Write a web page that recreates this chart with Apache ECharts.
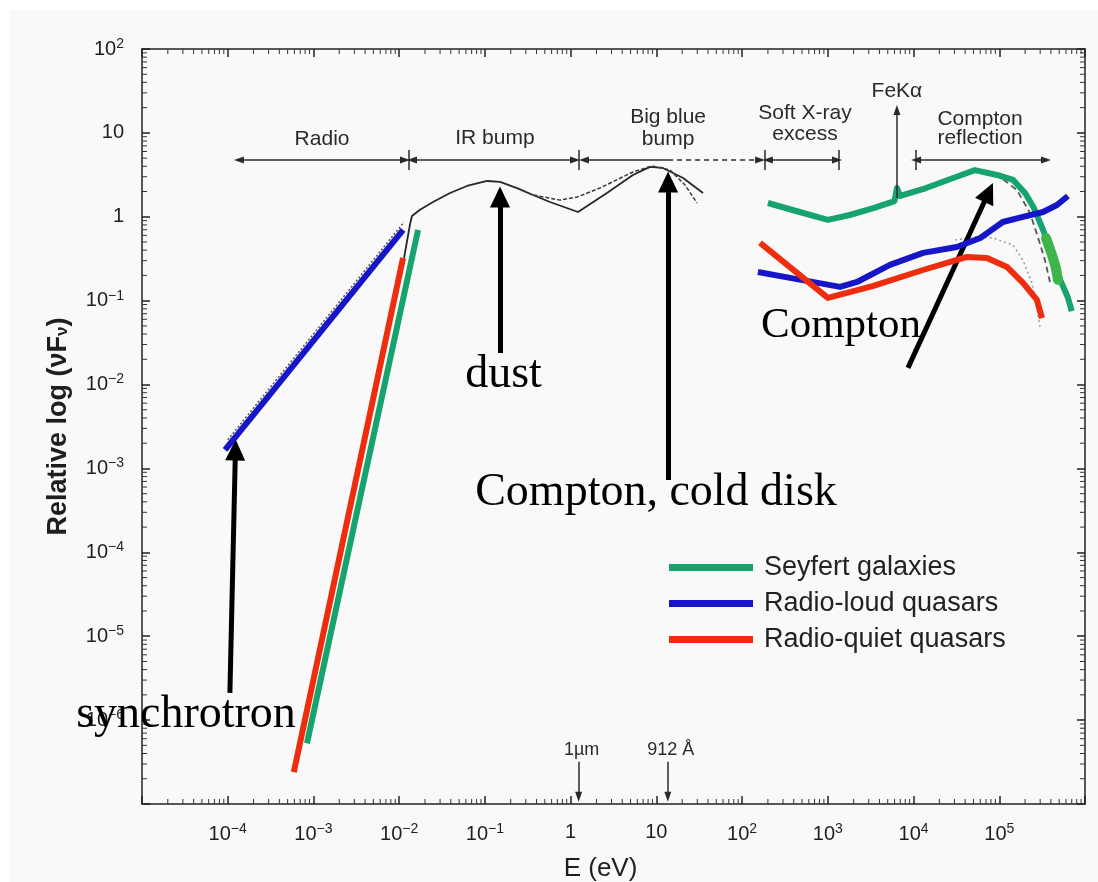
<!DOCTYPE html>
<html>
<head>
<meta charset="utf-8">
<script src="https://cdn.jsdelivr.net/npm/echarts@6/dist/echarts.min.js"></script>
<style>
  html, body { margin: 0; padding: 0; background: #ffffff; }
  #paper { position: absolute; left: 9px; top: 10px; right: 0; bottom: 0; background: #f9f9f9; }
  #chart { position: absolute; left: 0; top: 0; width: 1098px; height: 882px; }
</style>
</head>
<body>
<div id="paper"></div>
<div id="chart"></div>
<script>
// ---- Spectral energy distributions: photon energy E (eV) and relative nuFnu ----
const seyfertRadioE = [8.4e-4, 0.0166];
const seyfertRadioF = [5.3e-7, 0.70];
const seyfertXrayE = [200, 470, 1000, 1800, 3400, 6000, 6400, 7000, 14000, 29000, 52000, 94000, 145000, 200000, 250000, 315000, 370000, 450000, 510000, 630000, 700000];
const seyfertXrayF = [1.46, 1.14, 0.92, 1.05, 1.27, 1.54, 2.2, 1.77, 2.2, 2.9, 3.6, 3.15, 2.75, 1.92, 1.31, 0.75, 0.49, 0.28, 0.18, 0.11, 0.075];
const seyfertHardE = [351000, 412000, 458000, 484000];
const seyfertHardF = [0.558, 0.351, 0.245, 0.177];

const loudRadioE = [9.3e-5, 0.0111];
const loudRadioF = [1.66e-3, 0.70];
const loudXrayE = [153, 362, 1390, 2190, 5300, 12900, 32000, 60000, 110000, 189000, 324000, 471000, 632000];
const loudXrayF = [0.220, 0.187, 0.146, 0.167, 0.267, 0.371, 0.437, 0.559, 0.867, 0.995, 1.14, 1.38, 1.77];

const quietRadioE = [5.9e-4, 0.0111];
const quietRadioF = [2.4e-7, 0.323];
const quietXrayE = [162, 1000, 3400, 12900, 42000, 72000, 123000, 189000, 275000, 315000];
const quietXrayF = [0.488, 0.108, 0.150, 0.232, 0.332, 0.323, 0.252, 0.163, 0.102, 0.062];

// mean infrared / optical-UV continuum (IR bump and big blue bump)
const continuumE = [0.0114, 0.0134, 0.0141, 0.0175, 0.0248, 0.0392, 0.0618, 0.106, 0.150, 0.237, 0.364, 0.574, 1.22, 2.65, 5.33, 8.43, 11.9, 20.5, 35.0];
const continuumF = [0.323, 0.82, 1.02, 1.21, 1.50, 1.92, 2.33, 2.67, 2.60, 2.20, 1.82, 1.50, 1.14, 1.92, 3.15, 3.93, 3.82, 2.90, 1.92];
const altContinuumE = [0.237, 0.364, 0.752, 1.19, 2.20, 5.33, 8.89, 14.4, 21.6, 29.8];
const altContinuumF = [2.20, 1.82, 1.58, 1.72, 2.20, 3.42, 4.04, 3.61, 2.39, 1.46];
const radioTemplateE = [1.0e-4, 0.0114];
const radioTemplateF = [2.19e-3, 0.867];
// X-ray reflection hump templates
const reflectionE = [68000, 102000, 161000, 228000, 282000, 341000, 390000];
const reflectionF = [3.42, 2.98, 2.08, 1.11, 0.574, 0.305, 0.167];
const cutoffE = [30400, 52100, 84500, 144500, 188800, 240400, 268000, 298500];
const cutoffF = [0.530, 0.574, 0.559, 0.461, 0.305, 0.163, 0.094, 0.0486];

// axis tick exponents (decades)
const xDecades = [-5, -4, -3, -2, -1, 0, 1, 2, 3, 4, 5, 6];
const yDecades = [-7, -6, -5, -4, -3, -2, -1, 0, 1, 2];
const legendNames = ['Seyfert galaxies', 'Radio-loud quasars', 'Radio-quiet quasars'];

// ---- annotations, anchored in (E, nuFnu) ----
const bandLevel = 4.75;
const bandRanges = [[1.35e-4, 0.0117], [0.0141, 1.125], [200, 1280], [10700, 351000]];
const bigBlueSolid = [1.43, 13.7];
const bigBlueDashed = [13.7, 162];
const bandEdges = [0.013, 1.25, 185, 1350, 10600];
const bandTitles = [
  ['Radio', 1.26e-3, 8.45], ['IR bump', 0.131, 8.69],
  ['Big blue', 13.7, 15.5], ['bump', 13.7, 8.45],
  ['Soft X-ray', 542, 17.3], ['excess', 542, 9.7],
  ['FeK\u03b1', 6400, 31.6],
  ['Compton', 59600, 14.7], ['reflection', 59600, 8.69]
];
const feKaE = 6400;
const wavelengthMarks = [['1\u00b5m', 1.24], ['912 \u00c5', 13.6]];
const pointerArrows = [
  [[1.06e-4, 2.11e-6], [1.23e-4, 1.66e-3]],
  [[0.150, 0.0238], [0.150, 1.72]],
  [[13.7, 7.3e-4], [13.7, 2.60]],
  [[8610, 0.0158], [75000, 1.95]]
];
const processLabels = [
  ['synchrotron', 3.26e-5, 1.15e-6, 46],
  ['dust', 0.165, 0.0130, 46],
  ['Compton, cold disk', 9.9, 5.1e-4, 46],
  ['Compton', 1426, 0.0499, 43]
];

const X_MIN = -5, X_MAX = 6, Y_MIN = -7, Y_MAX = 2;
const lg = Math.log10;
const pts = (E, F) => E.map((e, i) => [lg(e), lg(F[i])]);
const gap = ['-', '-'];
const pt = (e, f) => [lg(e), lg(f)];

const COLORS = { green: '#17a36e', blue: '#1616c8', red: '#ee2c0e', ink: '#262626' };
const SANS = 'Liberation Sans, Arial, Helvetica, sans-serif';
const SERIF = 'Liberation Serif, Times New Roman, serif';

function decadeLabel(v, hideList) {
  if (hideList.indexOf(v) >= 0) return '';
  if (v === 0) return '{b|1}';
  if (v === 1) return '{b|10}';
  return '{b|10}{s|' + (v < 0 ? '\u2212' : '') + Math.abs(v) + '}';
}
const labelRich = {
  b: { fontSize: 20, fontFamily: SANS, color: '#1e1e1e' },
  s: { fontSize: 14, fontFamily: SANS, color: '#1e1e1e', padding: [0, 0, 10, 0] }
};

// log-spaced minor tick positions
const minorX = [], minorY = [];
xDecades.slice(0, -1).forEach(d => { for (let k = 2; k <= 9; k++) minorX.push([d + lg(k), Y_MIN]); });
yDecades.slice(0, -1).forEach(d => { for (let k = 2; k <= 9; k++) minorY.push([X_MIN, d + lg(k)]); });

const frameLine = { color: '#222', width: 1.5 };
const frameAxisLine = { show: true, onZero: false, lineStyle: frameLine };

function colored(name, color, radioE, radioF, xrayE, xrayF, z) {
  return {
    name, type: 'line', symbol: 'none', z,
    lineStyle: { color, width: 6, cap: 'butt', join: 'round' },
    itemStyle: { color },
    connectNulls: false,
    data: pts(radioE, radioF).concat([gap], pts(xrayE, xrayF))
  };
}
function thin(name, E, F, color, width, type) {
  return {
    name, type: 'line', symbol: 'none', z: 2,
    lineStyle: { color, width, type },
    data: pts(E, F)
  };
}
function segment(a, b, symA, symB) {
  return [{ coord: a, symbol: symA }, { coord: b, symbol: symB }];
}

const bl = lg(bandLevel);
const rangeLines = bandRanges.map(r => segment([lg(r[0]), bl], [lg(r[1]), bl], 'triangle', 'triangle'));
rangeLines.push(segment([lg(bigBlueSolid[0]), bl], [lg(bigBlueSolid[1]), bl], 'triangle', 'none'));
bandEdges.forEach(e => rangeLines.push(segment(pt(e, 6.25), pt(e, 3.61), 'none', 'none')));

const chart = echarts.init(document.getElementById('chart'), null, { renderer: 'canvas' });
chart.setOption({
  animation: false,
  textStyle: { fontFamily: SANS },
  grid: { left: 142, top: 49, width: 943, height: 755, containLabel: false, outerBoundsMode: 'none' },
  legend: {
    data: legendNames, orient: 'vertical', left: 664, top: 547,
    icon: 'rect', itemWidth: 84, itemHeight: 7, itemGap: 5,
    textStyle: { fontSize: 27, fontFamily: SANS, color: '#222', lineHeight: 31, padding: [0, 0, 0, 6] },
    selectedMode: false
  },
  xAxis: [
    {
      type: 'value', min: X_MIN, max: X_MAX, interval: 1, position: 'bottom',
      name: 'E (eV)', nameLocation: 'middle', nameGap: 52,
      nameTextStyle: { fontSize: 26, fontFamily: SANS, color: '#1e1e1e', padding: [0, 26, 0, 0] },
      axisLine: frameAxisLine,
      axisTick: { inside: true, length: 8, lineStyle: frameLine },
      splitLine: { show: false },
      axisLabel: { margin: 18, formatter: v => decadeLabel(v, [X_MIN, X_MAX]), rich: labelRich }
    },
    {
      type: 'value', min: X_MIN, max: X_MAX, interval: 1, position: 'top',
      axisLine: frameAxisLine,
      axisTick: { inside: true, length: 8, lineStyle: frameLine },
      splitLine: { show: false }, axisLabel: { show: false }
    }
  ],
  yAxis: [
    {
      type: 'value', min: Y_MIN, max: Y_MAX, interval: 1, position: 'left',
      name: '{n|Relative log (\u03bdF}{sub|\u03bd}{n|)}', nameLocation: 'middle', nameGap: 70, nameRotate: 90,
      nameTextStyle: {
        rich: {
          n: { fontSize: 27, fontWeight: 'bold', fontFamily: SANS, color: '#1e1e1e' },
          sub: { fontSize: 17, fontWeight: 'bold', fontFamily: SANS, color: '#1e1e1e', padding: [8, 0, 0, 0] }
        }
      },
      axisLine: frameAxisLine,
      axisTick: { inside: true, length: 8, lineStyle: frameLine },
      splitLine: { show: false },
      axisLabel: { margin: 18, formatter: v => decadeLabel(v, [Y_MIN]), rich: labelRich }
    },
    {
      type: 'value', min: Y_MIN, max: Y_MAX, interval: 1, position: 'right',
      axisLine: frameAxisLine,
      axisTick: { inside: true, length: 8, lineStyle: frameLine },
      splitLine: { show: false }, axisLabel: { show: false }
    }
  ],
  series: [
    // minor log ticks on all four sides
    {
      type: 'custom', name: 'minorX', clip: false, silent: true, z: 1,
      data: minorX,
      renderItem: (params, api) => {
        const x = api.value(0);
        const b = api.coord([x, Y_MIN]);
        const t = api.coord([x, Y_MAX]);
        const st = { stroke: '#333', lineWidth: 1 };
        return { type: 'group', children: [
          { type: 'line', shape: { x1: b[0], y1: b[1], x2: b[0], y2: b[1] - 5 }, style: st },
          { type: 'line', shape: { x1: t[0], y1: t[1], x2: t[0], y2: t[1] + 5 }, style: st }
        ] };
      }
    },
    {
      type: 'custom', name: 'minorY', clip: false, silent: true, z: 1,
      data: minorY,
      renderItem: (params, api) => {
        const y = api.value(1);
        const l = api.coord([X_MIN, y]);
        const r = api.coord([X_MAX, y]);
        const st = { stroke: '#333', lineWidth: 1 };
        return { type: 'group', children: [
          { type: 'line', shape: { x1: l[0], y1: l[1], x2: l[0] + 5, y2: l[1] }, style: st },
          { type: 'line', shape: { x1: r[0], y1: r[1], x2: r[0] - 5, y2: r[1] }, style: st }
        ] };
      }
    },
    thin('continuum', continuumE, continuumF, COLORS.ink, 1.8, 'solid'),
    thin('continuum2', altContinuumE, altContinuumF, '#3a3a3a', 1.5, [4, 2]),
    thin('radioTemplate', radioTemplateE, radioTemplateF, '#555', 1.5, [2, 2]),
    thin('reflection', reflectionE, reflectionF, '#555', 1.8, [6, 4]),
    thin('cutoff', cutoffE, cutoffF, '#9a9a9a', 1.5, [2, 3]),
    colored(legendNames[0], COLORS.green, seyfertRadioE, seyfertRadioF, seyfertXrayE, seyfertXrayF, 4),
    {
      name: 'seyfertHard', type: 'line', symbol: 'none', z: 5,
      lineStyle: { color: '#3db54b', width: 10, cap: 'round' },
      data: pts(seyfertHardE, seyfertHardF)
    },
    colored(legendNames[1], COLORS.blue, loudRadioE, loudRadioF, loudXrayE, loudXrayF, 5),
    colored(legendNames[2], COLORS.red, quietRadioE, quietRadioF, quietXrayE, quietXrayF, 6),
    // band arrows, wavelength markers and the FeKa line
    {
      type: 'line', name: 'bands', data: [], z: 7, symbol: 'none',
      markLine: {
        silent: true, animation: false, symbolSize: [7, 10],
        label: { show: false }, emphasis: { disabled: true },
        lineStyle: { color: '#2a2a2a', width: 1.5, type: 'solid' },
        data: rangeLines.concat(
          wavelengthMarks.map(w => segment(pt(w[1], 3.18e-7), pt(w[1], 1.22e-7), 'none', 'triangle')),
          [segment(pt(feKaE, 1.66), pt(feKaE, 18.7), 'none', 'triangle')]
        )
      }
    },
    {
      type: 'line', name: 'bandsDashed', data: [], z: 7, symbol: 'none',
      markLine: {
        silent: true, animation: false, symbolSize: [7, 10],
        label: { show: false }, emphasis: { disabled: true },
        lineStyle: { color: '#2a2a2a', width: 1.5, type: [5, 4] },
        data: [segment([lg(bigBlueDashed[0]), bl], [lg(bigBlueDashed[1]), bl], 'none', 'triangle')]
      }
    },
    // process pointers
    {
      type: 'line', name: 'pointers', data: [], z: 9, symbol: 'none',
      markLine: {
        silent: true, animation: false, symbolSize: [20, 21],
        label: { show: false }, emphasis: { disabled: true },
        lineStyle: { color: '#000', width: 5, type: 'solid' },
        data: pointerArrows.map(a => segment(pt(a[0][0], a[0][1]), pt(a[1][0], a[1][1]), 'none', 'triangle'))
      }
    }
  ]
});

// text annotations placed through the grid's coordinate conversion
function at(e, f) { return chart.convertToPixel({ gridIndex: 0 }, [lg(e), lg(f)]); }
const graphics = [];
bandTitles.forEach(t => {
  const p = at(t[1], t[2]);
  graphics.push({ type: 'text', x: p[0], y: p[1], z: 20, silent: true,
    style: { text: t[0], font: '21px ' + SANS, fill: '#2a2a2a', align: 'center', verticalAlign: 'middle' } });
});
wavelengthMarks.forEach(w => {
  const p = at(w[1], 4.4e-7);
  graphics.push({ type: 'text', x: p[0] + 3, y: p[1], z: 20, silent: true,
    style: { text: w[0], font: '18px ' + SANS, fill: '#2a2a2a', align: 'center', verticalAlign: 'middle' } });
});
processLabels.forEach(t => {
  const p = at(t[1], t[2]);
  graphics.push({ type: 'text', x: p[0], y: p[1], z: 30, silent: true,
    style: { text: t[0], font: t[3] + 'px ' + SERIF, fill: '#000', align: 'center', verticalAlign: 'middle' } });
});
chart.setOption({ graphic: graphics });
</script>
</body>
</html>
